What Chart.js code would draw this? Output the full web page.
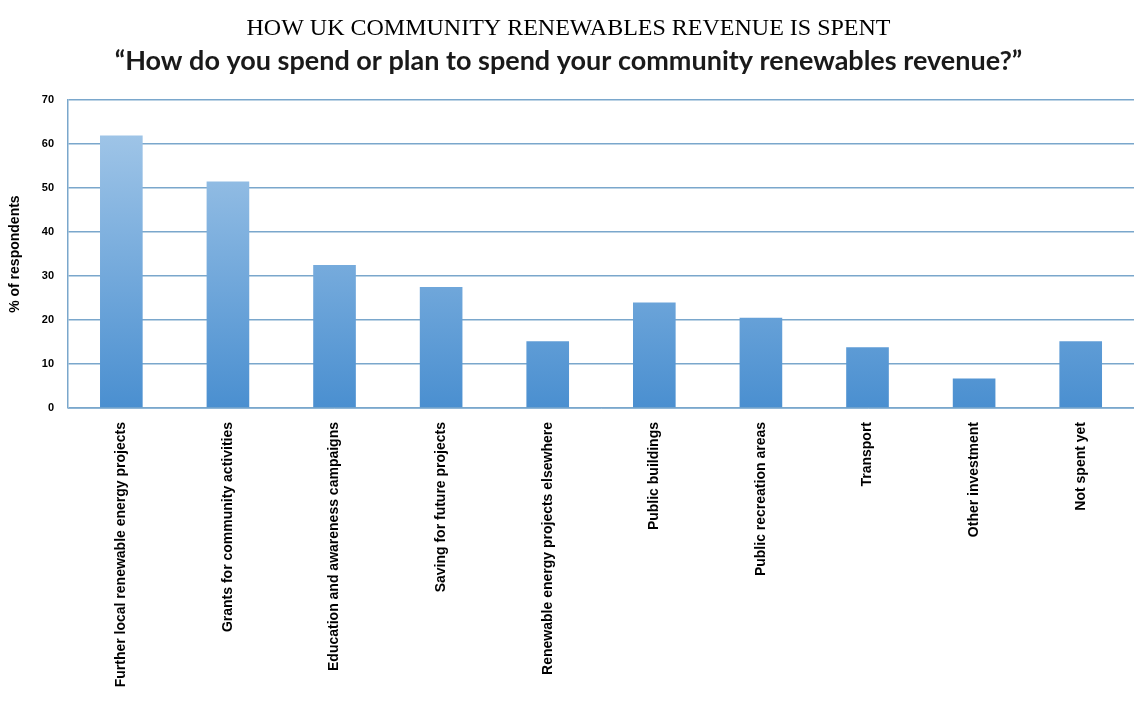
<!DOCTYPE html>
<html>
<head>
<meta charset="utf-8">
<script src="https://cdn.jsdelivr.net/npm/chart.js@4.4.1/dist/chart.umd.min.js"></script>
<style>
html,body{margin:0;padding:0;background:#fff;overflow:hidden;}
#wrap{width:1134px;height:723px;position:relative;}
</style>
</head>
<body>
<div id="wrap"><canvas id="c" width="1134" height="723"></canvas></div>
<script>
const categories = [
  "Further local renewable energy projects",
  "Grants for community activities",
  "Education and awareness campaigns",
  "Saving for future projects",
  "Renewable energy projects elsewhere",
  "Public buildings",
  "Public recreation areas",
  "Transport",
  "Other investment",
  "Not spent yet"
];
const percentRespondents = [62, 51.5, 32.5, 27.5, 15.2, 24, 20.5, 13.8, 6.7, 15.2];
const yTicks = [0, 10, 20, 30, 40, 50, 60, 70];
const titleText = "HOW UK COMMUNITY RENEWABLES REVENUE IS SPENT";
const subtitleText = "\u201CHow do you spend or plan to spend your community renewables revenue?\u201D";
const yAxisTitle = "% of respondents";

function barGradient(ctx) {
  const chart = ctx.chart;
  const area = chart.chartArea;
  if (!area) return '#6aa6dc';
  const el = ctx.element;
  const top = (el && el.y !== undefined && isFinite(el.y)) ? el.y : area.top;
  const bottom = (el && el.base !== undefined && isFinite(el.base)) ? el.base : area.bottom;
  const g = chart.ctx.createLinearGradient(0, top, 0, bottom);
  g.addColorStop(0, '#a9cbea');
  g.addColorStop(1, '#4a8fd0');
  return g;
}

new Chart(document.getElementById('c'), {
  type: 'bar',
  data: {
    labels: categories,
    datasets: [{
      data: percentRespondents,
      backgroundColor: barGradient,
      borderWidth: 0,
      categoryPercentage: 1,
      barPercentage: 0.4
    }]
  },
  options: {
    responsive: false,
    animation: false,
    layout: { padding: { left: 3, right: 0, top: 6, bottom: 0 } },
    plugins: {
      legend: { display: false },
      tooltip: { enabled: false },
      title: {
        display: true,
        text: titleText,
        color: '#000',
        font: { family: 'Liberation Serif', size: 24, weight: 'normal' },
        padding: { top: 8, bottom: 2 }
      },
      subtitle: {
        display: true,
        text: subtitleText,
        color: '#1a1a1a',
        font: { family: 'Lato', size: 27, weight: 'bold' },
        padding: { top: 0, bottom: 23 }
      }
    },
    scales: {
      x: {
        grid: { display: false },
        border: { display: true, color: '#8fb6d6', width: 1 },
        ticks: {
          minRotation: 90,
          maxRotation: 90,
          autoSkip: false,
          color: '#000',
          padding: 6,
          font: { family: 'Liberation Sans', size: 14, weight: 'bold' }
        },
        afterFit: (scale) => { scale.height = 315; }
      },
      y: {
        min: 0,
        max: 70,
        afterBuildTicks: (scale) => { scale.ticks = yTicks.map(v => ({ value: v })); },
        grid: { color: '#7aa7cc', lineWidth: 1.5, drawTicks: false },
        border: { display: true, color: '#7aa7cc', width: 1.5 },
        ticks: {
          color: '#000',
          padding: 14,
          font: { family: 'Liberation Sans', size: 11, weight: 'bold' }
        },
        title: {
          display: true,
          text: yAxisTitle,
          color: '#000',
          padding: { top: 4, bottom: 4 },
          font: { family: 'Liberation Sans', size: 14, weight: 'bold' }
        }
      }
    }
  }
});
</script>
</body>
</html>
